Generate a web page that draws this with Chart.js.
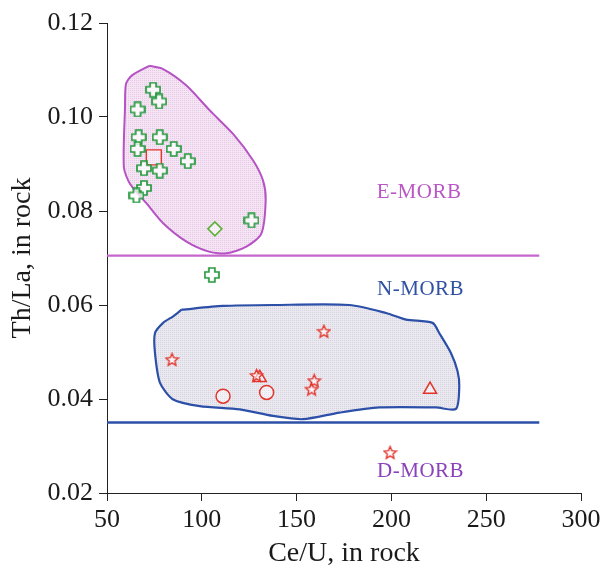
<!DOCTYPE html>
<html>
<head>
<meta charset="utf-8">
<script src="https://cdn.jsdelivr.net/npm/chart.js@4/dist/chart.umd.min.js"></script>
<style>
html,body{margin:0;padding:0;background:#fff;}
#wrap{width:610px;height:570px;}
</style>
</head>
<body>
<div id="wrap"><canvas id="c" width="610" height="570"></canvas></div>
<script>
// ---- Data (Ce/U, Th/La) ----
const crossX = [74.3, 77.5, 66.1, 66.7, 77.8, 66.1, 85.2, 92.6, 69.5, 77.8, 69.5, 65.5, 126.2, 105.3];
const crossY = [0.1058, 0.1033, 0.1016, 0.0957, 0.0957, 0.0932, 0.0932, 0.0906, 0.0891, 0.0886, 0.0849, 0.0833, 0.0780, 0.0664];
const diamondX = [106.9];
const diamondY = [0.0762];
const squareX = [74.7];
const squareY = [0.0914];
const starX = [84.3, 164.4, 128.9, 159.3, 157.9, 199.3];
const starY = [0.0484, 0.0544, 0.0450, 0.0439, 0.0421, 0.0286];
const circleX = [111.2, 134.2];
const circleY = [0.0406, 0.0414];
const triangleX = [130.6, 220.4];
const triangleY = [0.0445, 0.0420];

// field outlines
const eFieldX = [72.3, 79.6, 91.9, 104.2, 116.5, 127.0, 132.3, 133.7, 131.4, 123.5, 113.0, 104.2, 91.9, 79.6, 70.9, 62.1, 58.9, 59.5, 60.0, 63.0, 72.3];
const eFieldY = [0.1109, 0.1102, 0.1067, 0.1014, 0.0964, 0.0908, 0.0865, 0.0823, 0.0752, 0.0724, 0.0710, 0.0713, 0.0735, 0.0774, 0.0816, 0.0858, 0.0893, 0.1021, 0.1070, 0.1088, 0.1109];
const nFieldX = [89.3, 111.2, 137.5, 177.9, 197.2, 207.7, 221.7, 225.3, 231.4, 234.9, 235.8, 234.1, 223.5, 193.7, 172.6, 153.3, 137.5, 120.0, 98.9, 84.9, 77.9, 75.3, 75.3, 79.6, 84.9, 89.3];
const nFieldY = [0.0590, 0.0598, 0.0600, 0.0600, 0.0583, 0.0569, 0.0562, 0.0540, 0.0498, 0.0459, 0.0427, 0.0379, 0.0382, 0.0382, 0.0371, 0.0357, 0.0364, 0.0378, 0.0385, 0.0399, 0.0435, 0.0498, 0.0540, 0.0562, 0.0576, 0.0590];

// boundary lines
const eLineX = [50, 278];
const eLineY = [0.0705, 0.0705];
const nLineX = [50, 278];
const nLineY = [0.0350, 0.0350];

// field labels
const labelText = ['E-MORB', 'N-MORB', 'D-MORB'];
const labelX = [214.6, 215.4, 215.4];
const labelY = [0.0839, 0.0633, 0.0246];
const labelColor = ['#b957c6', '#2f51a2', '#8a42ba'];

// axis ticks
const xTicks = [50, 100, 150, 200, 250, 300];
const yTicks = [0.02, 0.04, 0.06, 0.08, 0.10, 0.12];

// ---- helpers ----
const zip = (xs, ys) => xs.map((x, i) => ({x: x, y: ys[i]}));

function makePlus(size, color) {
  const c = document.createElement('canvas');
  c.width = size; c.height = size;
  const g = c.getContext('2d');
  const m = size / 2, a = 3, h = size / 2 - 1;
  g.translate(m, m);
  g.beginPath();
  const pts = [[-a,-h],[a,-h],[a,-a],[h,-a],[h,a],[a,a],[a,h],[-a,h],[-a,a],[-h,a],[-h,-a],[-a,-a]];
  pts.forEach((p, i) => i ? g.lineTo(p[0], p[1]) : g.moveTo(p[0], p[1]));
  g.closePath();
  g.fillStyle = 'rgba(255,255,255,0.75)';
  g.fill();
  g.lineWidth = 1.7;
  g.strokeStyle = color;
  g.stroke();
  return c;
}
function makeStar(size, color) {
  const c = document.createElement('canvas');
  c.width = size; c.height = size;
  const g = c.getContext('2d');
  const m = size / 2, R = size / 2 - 1, r = R * 0.45;
  g.translate(m, m + 0.5);
  g.beginPath();
  for (let i = 0; i < 10; i++) {
    const ang = -Math.PI / 2 + i * Math.PI / 5;
    const rr = i % 2 ? r : R;
    const px = rr * Math.cos(ang), py = rr * Math.sin(ang);
    i ? g.lineTo(px, py) : g.moveTo(px, py);
  }
  g.closePath();
  g.fillStyle = 'rgba(255,255,255,0.6)';
  g.fill();
  g.lineWidth = 1.4;
  g.strokeStyle = color;
  g.stroke();
  return c;
}
function makePattern(base, dot) {
  const c = document.createElement('canvas');
  c.width = 2; c.height = 2;
  const g = c.getContext('2d');
  g.fillStyle = base; g.fillRect(0, 0, 2, 2);
  g.fillStyle = dot; g.fillRect(0, 0, 1, 1);
  return g.createPattern(c, 'repeat');
}

const pinkPat = makePattern('#f5e4f4', '#e6c8e6');
const greyPat = makePattern('#ebe9f0', '#d6d3de');

const RED = '#e3352c';
const GREEN = '#25993e';

const labelPlugin = {
  id: 'fieldLabels',
  afterDatasetsDraw(chart) {
    const {ctx, scales: {x, y}} = chart;
    ctx.save();
    ctx.font = '21px "Liberation Serif"';
    ctx.textAlign = 'center';
    ctx.textBaseline = 'middle';
    labelText.forEach((t, i) => {
      ctx.fillStyle = labelColor[i];
      if (ctx.letterSpacing !== undefined) ctx.letterSpacing = '0.5px';
      ctx.fillText(t, x.getPixelForValue(labelX[i]), y.getPixelForValue(labelY[i]));
    });
    ctx.restore();
  }
};

const serif = '"Liberation Serif", "Times New Roman", serif';

new Chart(document.getElementById('c'), {
  type: 'scatter',
  data: {
    datasets: [
      { data: zip(eFieldX, eFieldY), showLine: true, fill: 'shape', tension: 0.25,
        borderColor: '#b653c4', borderWidth: 2, backgroundColor: pinkPat, pointRadius: 0, order: 20 },
      { data: zip(nFieldX, nFieldY), showLine: true, fill: 'shape', tension: 0.25,
        borderColor: '#2c50a8', borderWidth: 2.2, backgroundColor: greyPat, pointRadius: 0, order: 19 },
      { data: zip(eLineX, eLineY), showLine: true, borderColor: '#c566cc', borderWidth: 2.2, pointRadius: 0, order: 10 },
      { data: zip(nLineX, nLineY), showLine: true, borderColor: '#2d50a6', borderWidth: 2.4, pointRadius: 0, order: 10 },
      { data: zip(crossX, crossY), pointStyle: makePlus(16, GREEN), pointRadius: 8, order: 1 },
      { data: zip(diamondX, diamondY), pointStyle: 'rectRot', pointRadius: 7, borderColor: '#5bb236',
        backgroundColor: 'rgba(255,255,255,0.5)', borderWidth: 1.6, order: 1 },
      { data: zip(squareX, squareY), pointStyle: 'rect', pointRadius: 10.6, borderColor: RED,
        backgroundColor: 'rgba(255,255,255,0.3)', borderWidth: 1.4, order: 2 },
      { data: zip(starX, starY), pointStyle: makeStar(15, RED), pointRadius: 7.5, order: 1 },
      { data: zip(circleX, circleY), pointStyle: 'circle', pointRadius: 7, borderColor: RED,
        backgroundColor: 'rgba(255,255,255,0.4)', borderWidth: 1.5, order: 1 },
      { data: zip(triangleX, triangleY), pointStyle: 'triangle', pointRadius: 7.5, borderColor: RED,
        backgroundColor: 'rgba(255,255,255,0.4)', borderWidth: 1.5, order: 1 }
    ]
  },
  options: {
    responsive: false,
    animation: false,
    events: [],
    layout: { padding: { top: 23, right: 29, left: 0, bottom: 0 } },
    plugins: { legend: { display: false }, tooltip: { enabled: false } },
    scales: {
      x: {
        type: 'linear', min: 50, max: 300,
        afterBuildTicks: s => { s.ticks = xTicks.map(v => ({value: v})); },
        afterFit: s => { s.height = 77; },
        ticks: { font: { family: serif, size: 26 }, color: '#1a1a1a', padding: 4,
                 callback: v => String(v) },
        grid: { drawOnChartArea: false, drawTicks: true, tickLength: 8, color: '#222', lineWidth: 1 },
        border: { display: true, color: '#222', width: 1 },
        title: { display: true, text: 'Ce/U, in rock', font: { family: serif, size: 28 }, color: '#1a1a1a',
                 padding: { top: 0, bottom: 0 } }
      },
      y: {
        type: 'linear', min: 0.02, max: 0.12,
        afterBuildTicks: s => { s.ticks = yTicks.map(v => ({value: v})); },
        afterFit: s => { s.width = 107; },
        ticks: { font: { family: serif, size: 26 }, color: '#1a1a1a', padding: 6,
                 callback: v => v.toFixed(2) },
        grid: { drawOnChartArea: false, drawTicks: true, tickLength: 8, color: '#222', lineWidth: 1 },
        border: { display: true, color: '#222', width: 1 },
        title: { display: true, text: 'Th/La, in rock', font: { family: serif, size: 28 }, color: '#1a1a1a',
                 padding: { top: 6, bottom: 0 } }
      }
    }
  },
  plugins: [labelPlugin]
});
</script>
</body>
</html>
